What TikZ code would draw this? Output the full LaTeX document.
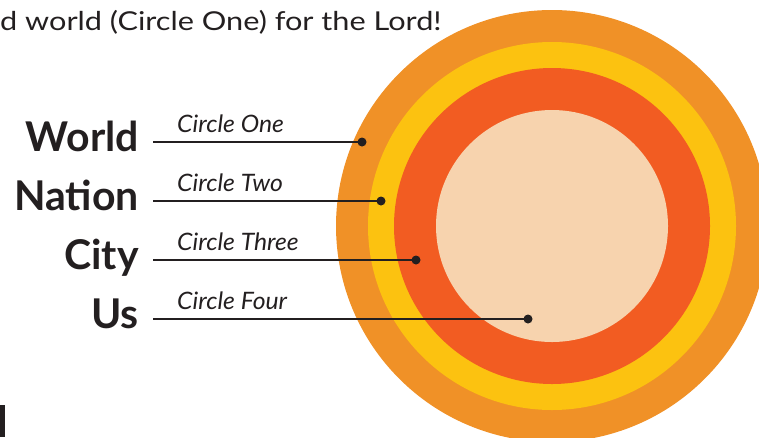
\documentclass[tikz,border=0pt]{standalone}
\usepackage{fontspec}
\usepackage{graphicx}
\setmainfont{Lato}
\definecolor{ringA}{HTML}{F09127}
\definecolor{ringB}{HTML}{FCC210}
\definecolor{ringC}{HTML}{F25C22}
\definecolor{ringD}{HTML}{F7D3AE}
\definecolor{ink}{HTML}{231F20}
\begin{document}
\begin{tikzpicture}[x=1pt,y=-1pt,
  bigname/.style={anchor=base east,inner sep=0pt,font=\fontsize{41}{46}\selectfont\bfseries,text=ink},
  circname/.style={anchor=base west,inner sep=0pt,font=\fontsize{24}{28}\selectfont\itshape,text=ink},
  leader/.style={draw=ink,line width=2pt},
  pin/.style={circle,fill=ink,inner sep=0pt,minimum size=9pt}]
\useasboundingbox (0,0) rectangle (759,437);
\clip (0,0) rectangle (759,437);
\fill[ringA] (552,226) circle (216);
\fill[ringB] (552,226) circle (184);
\fill[ringC] (552,226) circle (158);
\fill[ringD] (552,226) circle (116);
\node[anchor=base west,inner sep=0pt,font=\fontsize{26}{30}\selectfont,text=ink] (top) at (0,30) {\scalebox{1.18}[1]{d world (Circle One) for the Lord!}};
\fill[ink] (0,405) rectangle (5,437);
\node[bigname] (w) at (139,151) {World};
\node[bigname] (n) at (139,210) {Nation};
\node[bigname] (c) at (139,269) {City};
\node[bigname] (u) at (139,328) {Us};
\node[circname] (c1) at (177,132) {\scalebox{1.03}[1]{Circle One}};
\node[circname] (c2) at (177,191) {\scalebox{1.03}[1]{Circle Two}};
\node[circname] (c3) at (177,250) {\scalebox{1.03}[1]{Circle Three}};
\node[circname] (c4) at (177,309) {\scalebox{1.03}[1]{Circle Four}};
\coordinate (w0) at (153,142);
\coordinate (n0) at (153,201);
\coordinate (ci0) at (153,260);
\coordinate (u0) at (153,319);
\node[pin] (p1) at (362,142) {};
\node[pin] (p2) at (381,201) {};
\node[pin] (p3) at (416,260) {};
\node[pin] (p4) at (528,319) {};
\draw[leader] (w0) -- (p1.center);
\draw[leader] (n0) -- (p2.center);
\draw[leader] (ci0) -- (p3.center);
\draw[leader] (u0) -- (p4.center);
\end{tikzpicture}
\end{document}
